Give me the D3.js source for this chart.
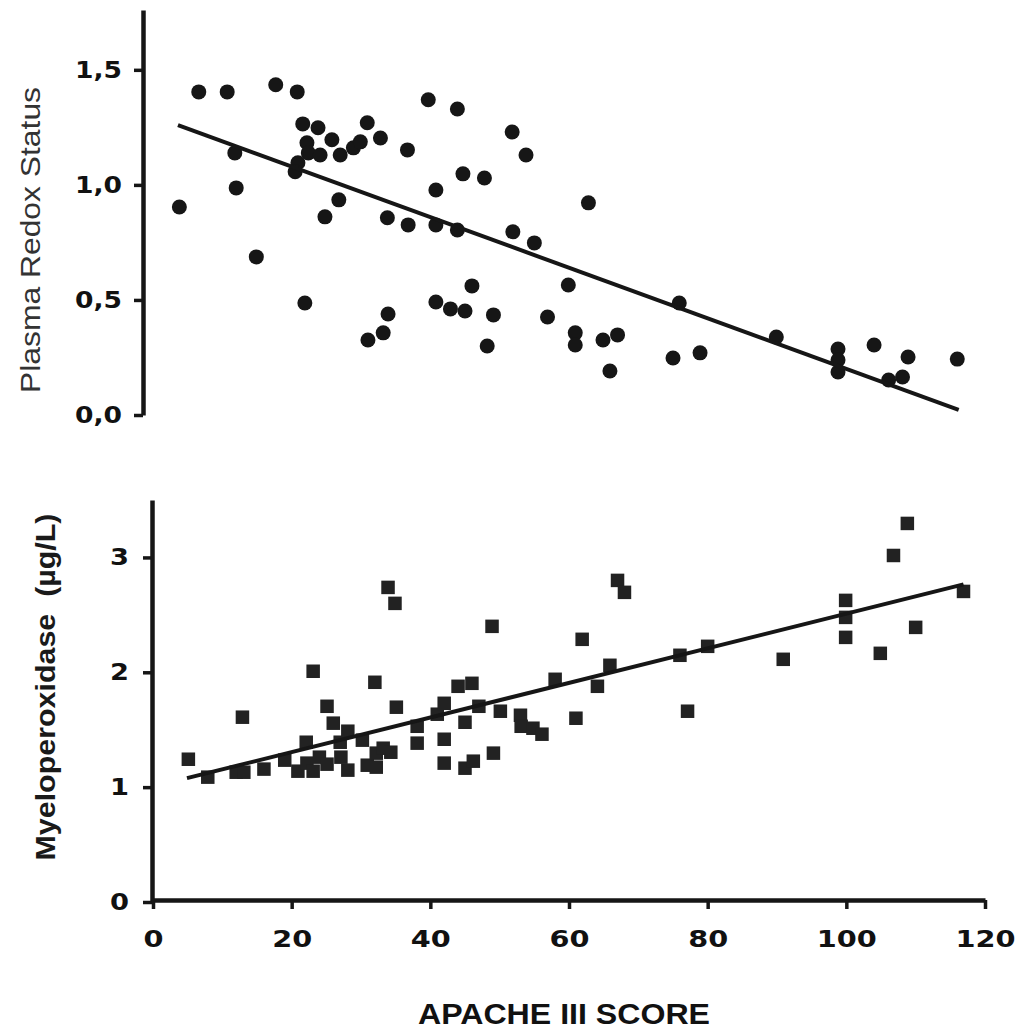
<!DOCTYPE html>
<html><head><meta charset="utf-8">
<script src="https://cdn.jsdelivr.net/npm/d3@7"></script>
<style>body{margin:0;background:#fff}svg{display:block}</style>
</head><body>
<svg id="c" width="1021" height="1033"></svg>
<script>
// ---- data ----
const redoxX = [7.9,12.0,19.0,22.1,41.0,45.2,53.1,55.1,5.1,13.1,13.3,16.2,23.2,
  22.9,25.1,27.1,23.5,23.7,25.4,22.2,21.8,28.3,30.2,31.2,32.2,34.1,38.0,
  28.1,26.1,35.1,38.1,42.1,42.1,45.2,46.0,49.1,53.2,56.3,47.3,42.1,44.2,46.3,50.4,58.2,61.2,
  35.2,34.5,32.3,49.5,62.2,62.2,64.1,66.2,68.3,67.2,77.2,76.3,80.2,91.2,
  100.1,100.1,100.1,105.3,107.4,109.4,110.2,117.3];
const redoxY = [1.404,1.404,1.435,1.404,1.370,1.330,1.230,1.130,0.904,1.139,0.987,0.687,0.487,
  1.265,1.248,1.196,1.183,1.139,1.130,1.096,1.057,1.130,1.161,1.187,1.270,1.204,1.152,
  0.935,0.861,0.857,0.826,0.978,0.826,0.804,1.048,1.030,0.796,0.748,0.561,0.491,0.461,0.452,0.435,0.426,0.565,
  0.439,0.357,0.326,0.300,0.357,0.304,0.922,0.326,0.348,0.191,0.487,0.248,0.270,0.339,
  0.287,0.239,0.187,0.304,0.152,0.165,0.252,0.243];
const redoxFit = {x: [4.9, 117.5], y: [1.260, 0.022]};

const mpoX = [5.1,7.9,12.0,13.1,12.9,16.0,19.0,20.9,22.1,22.2,23.1,24.0,25.1,23.1,25.1,26.0,27.0,27.1,
  28.1,28.1,30.2,30.9,32.2,32.0,32.2,33.2,34.3,33.9,34.9,35.1,38.1,38.1,41.0,42.0,42.0,42.0,
  44.0,46.0,45.0,45.0,46.2,47.0,48.9,49.1,50.1,53.0,53.1,54.8,56.1,58.0,61.0,61.9,64.1,65.9,
  67.0,68.0,76.0,77.1,80.0,90.9,99.9,99.9,99.9,104.9,106.8,108.8,110.0,116.9];
const mpoY = [1.243,1.087,1.130,1.130,1.609,1.157,1.235,1.139,1.391,1.209,1.139,1.261,1.200,2.009,1.704,1.557,1.391,1.261,
  1.487,1.148,1.409,1.191,1.174,1.913,1.296,1.339,1.304,2.739,2.600,1.696,1.530,1.383,1.635,1.730,1.417,1.209,
  1.878,1.904,1.565,1.165,1.226,1.704,2.400,1.296,1.661,1.626,1.530,1.513,1.461,1.939,1.600,2.287,1.878,2.061,
  2.800,2.696,2.148,1.661,2.226,2.113,2.626,2.478,2.304,2.165,3.017,3.296,2.391,2.704];
const mpoFit = {x: [4.9, 116.9], y: [1.078, 2.765]};

const xTicks = [0,20,40,60,80,100,120];
const redoxTicks = [0,0.5,1.0,1.5];
const mpoTicks = [0,1,2,3];
const xTitle = "APACHE III SCORE";
const redoxTitle = "Plasma Redox Status";
const mpoTitle = "Myeloperoxidase\u00a0\u00a0(\u00b5g/L)";

// ---- drawing ----
const svg = d3.select("#c");
svg.append("rect").attr("width",1021).attr("height",1033).attr("fill","#fff");
const ink = "#161616";
const tickFont = "'DejaVu Sans', sans-serif";

const xTop = d3.scaleLinear().domain([0,120]).range([144,976]);
const xBot = d3.scaleLinear().domain([0,120]).range([153,985]);
const yTop = d3.scaleLinear().domain([0,1.76]).range([415,10]);
const yBot = d3.scaleLinear().domain([0,3.5]).range([902,500]);

function styleAxis(g, widthFn){
  g.select(".domain").attr("stroke",ink).attr("stroke-width",4.5);
  g.selectAll(".tick line").attr("stroke",ink).attr("stroke-width",3.5);
  g.selectAll(".tick text").attr("fill","#111").attr("font-family",tickFont)
    .attr("font-weight","bold").attr("font-size",23)
    .attr("textLength", widthFn).attr("lengthAdjust","spacingAndGlyphs");
}

// top panel
const gTopY = svg.append("g").attr("transform",`translate(${xTop(0)-1},0)`)
  .call(d3.axisLeft(yTop).tickValues(redoxTicks).tickSize(9).tickSizeOuter(0).tickPadding(12)
     .tickFormat(d => d3.format(".1f")(d).replace(".",",")));
gTopY.call(g => styleAxis(g, () => 47));

svg.append("g").selectAll("circle").data(redoxX.map((x,i)=>[x,redoxY[i]])).join("circle")
  .attr("cx",d=>xTop(d[0])).attr("cy",d=>yTop(d[1])).attr("r",7.5).attr("fill",ink);

svg.append("line")
  .attr("x1",xTop(redoxFit.x[0])).attr("y1",yTop(redoxFit.y[0]))
  .attr("x2",xTop(redoxFit.x[1])).attr("y2",yTop(redoxFit.y[1]))
  .attr("stroke",ink).attr("stroke-width",4);

svg.append("text").attr("transform","translate(40,240) rotate(-90)")
  .attr("text-anchor","middle").attr("font-family","'Liberation Sans', Arial, sans-serif")
  .attr("font-size",28).attr("fill","#333")
  .attr("textLength",306).attr("lengthAdjust","spacingAndGlyphs").text(redoxTitle);

// bottom panel
const gBotY = svg.append("g").attr("transform",`translate(${xBot(0)-1},0)`)
  .call(d3.axisLeft(yBot).tickValues(mpoTicks).tickSize(9).tickSizeOuter(0).tickPadding(14)
     .tickFormat(d3.format("d")));
gBotY.call(g => styleAxis(g, () => 19));

const gBotX = svg.append("g").attr("transform",`translate(0,${yBot(0)-2})`)
  .call(d3.axisBottom(xBot).tickValues(xTicks).tickSize(9).tickSizeOuter(0).tickPadding(22)
     .tickFormat(d3.format("d")));
gBotX.call(g => styleAxis(g, d => String(d).length*20));

const sq = 13.5;
svg.append("g").selectAll("rect").data(mpoX.map((x,i)=>[x,mpoY[i]])).join("rect")
  .attr("x",d=>xBot(d[0])-sq/2).attr("y",d=>yBot(d[1])-sq/2)
  .attr("width",sq).attr("height",sq).attr("fill","#222");

svg.append("line")
  .attr("x1",xBot(mpoFit.x[0])).attr("y1",yBot(mpoFit.y[0]))
  .attr("x2",xBot(mpoFit.x[1])).attr("y2",yBot(mpoFit.y[1]))
  .attr("stroke",ink).attr("stroke-width",4);

svg.append("text").attr("transform","translate(55,687) rotate(-90)")
  .attr("text-anchor","middle").attr("font-family","'Liberation Sans', Arial, sans-serif")
  .attr("font-weight","bold").attr("font-size",28).attr("fill","#1a1a1a")
  .attr("textLength",347).attr("lengthAdjust","spacingAndGlyphs").text(mpoTitle);

svg.append("text").attr("x",564).attr("y",1024)
  .attr("text-anchor","middle").attr("font-family","'Liberation Sans', Arial, sans-serif")
  .attr("font-weight","bold").attr("font-size",29).attr("fill","#111")
  .attr("textLength",292).attr("lengthAdjust","spacingAndGlyphs").text(xTitle);
</script>
</body></html>
